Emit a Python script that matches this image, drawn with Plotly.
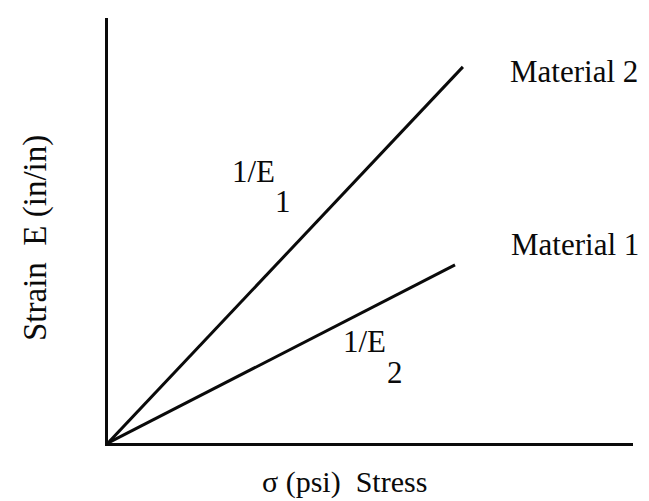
import plotly.graph_objects as go

# stress (x) and strain (y) end points of the two linear curves
materials = ["Material 1", "Material 2"]
stress = {"Material 1": [0, 6.61], "Material 2": [0, 6.76]}
strain = {"Material 1": [0, 4.19], "Material 2": [0, 8.85]}

x_title = "σ (psi)  Stress"
y_title = "Strain  E (in/in)"

FONT = "Liberation Serif, Times New Roman, serif"
INK = "#0a0a0a"

W, H = 649, 501
L, R, T, B = 100, 24, 10, 66

fig = go.Figure()
for name in materials:
    fig.add_trace(
        go.Scatter(
            x=stress[name],
            y=strain[name],
            mode="lines",
            name=name,
            line={"color": INK, "width": 3},
            showlegend=False,
        )
    )

big = {"family": FONT, "size": 31, "color": INK}
notes = [
    # text, x, y, xanchor
    ("Material 2", 7.62, 8.73, "left"),
    ("Material 1", 7.64, 4.66, "left"),
    ("1/E", 2.32, 6.38, "left"),
    ("1", 3.33, 5.69, "center"),
    ("1/E", 4.44, 2.38, "left"),
    ("2", 5.46, 1.66, "center"),
]
for text, x, y, anchor in notes:
    fig.add_annotation(
        x=x, y=y, text=text, showarrow=False, xanchor=anchor, yanchor="middle", font=big
    )


def to_paper(px, py):
    # pixel position in the figure -> paper coords (relative to the plot area)
    return (px - L) / (W - L - R), (H - B - py) / (H - T - B)


xt, yt = to_paper(336, 474)
fig.add_annotation(
    x=xt, y=yt, xref="paper", yref="paper", text=x_title,
    showarrow=False, font={**big, "size": 30}, xanchor="center", yanchor="middle",
)
xt, yt = to_paper(28, 230)
fig.add_annotation(
    x=xt, y=yt, xref="paper", yref="paper", text=y_title,
    showarrow=False, font={**big, "size": 33}, textangle=-90,
    xanchor="center", yanchor="middle",
)

axis_style = {
    "range": [0, 10],
    "showline": True,
    "linecolor": INK,
    "linewidth": 3,
    "showgrid": False,
    "zeroline": False,
    "showticklabels": False,
    "ticks": "",
    "fixedrange": True,
}
fig.update_layout(
    width=W,
    height=H,
    margin={"l": L, "r": R, "t": T, "b": B},
    paper_bgcolor="white",
    plot_bgcolor="white",
    xaxis=axis_style,
    yaxis=axis_style,
)

fig.write_html("out.html")
